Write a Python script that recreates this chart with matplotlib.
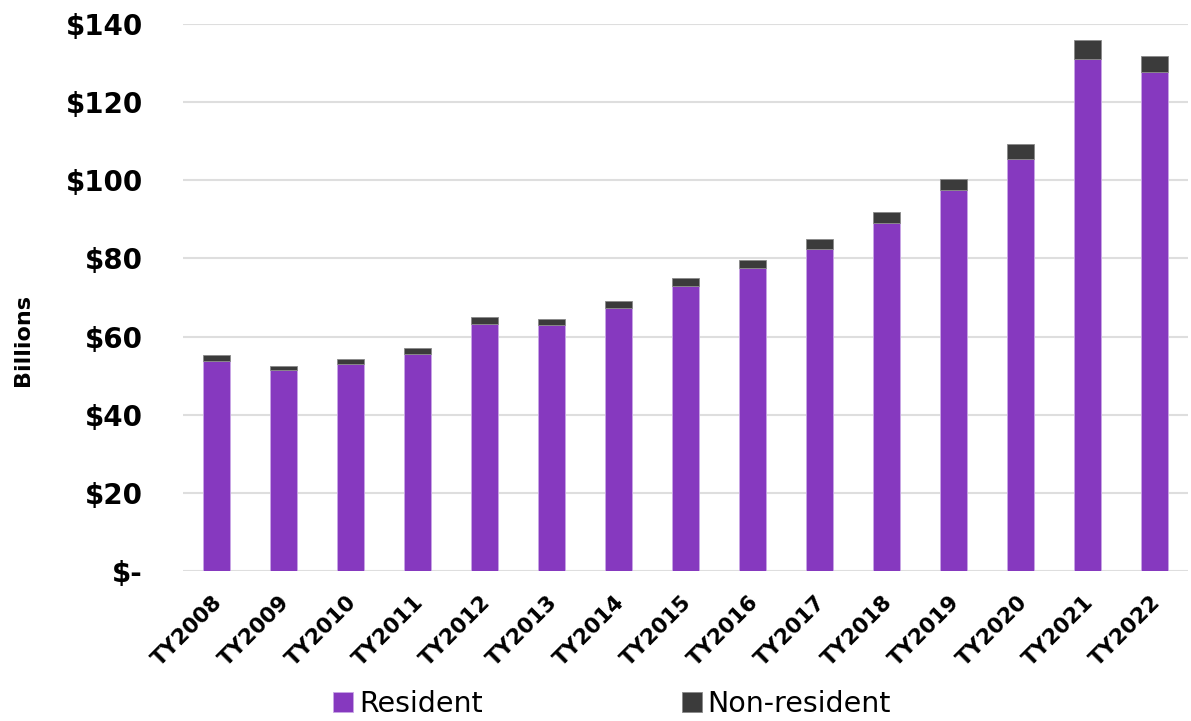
import numpy as np
import matplotlib
matplotlib.use("Agg")
import matplotlib.pyplot as plt
import matplotlib.transforms as mtransforms

years = ["TY2008", "TY2009", "TY2010", "TY2011", "TY2012", "TY2013", "TY2014", "TY2015",
         "TY2016", "TY2017", "TY2018", "TY2019", "TY2020", "TY2021", "TY2022"]
resident = [53.7, 51.5, 53.0, 55.6, 63.2, 62.9, 67.3, 72.9, 77.5, 82.4, 89.1, 97.4, 105.4, 131.1, 127.6]
non_resident = [1.5, 1.1, 1.2, 1.4, 1.7, 1.7, 1.8, 2.1, 2.0, 2.6, 2.8, 3.0, 3.8, 4.7, 4.1]
yticks = [0, 20, 40, 60, 80, 100, 120, 140]
ytick_labels = ["$-", "$20", "$40", "$60", "$80", "$100", "$120", "$140"]

purple = "#8639BF"
dark = "#3B3B3B"

plt.rcParams["font.family"] = "DejaVu Sans"

fig = plt.figure(figsize=(11.91, 7.21), dpi=100)
ax = fig.add_axes([0.1537, 0.208, 0.844, 0.7587])

x = np.arange(len(years))
ax.bar(x, resident, width=0.4, color=purple, edgecolor="#C9A6E6", linewidth=0.6,
       label="Resident", zorder=3)
ax.bar(x, non_resident, width=0.4, bottom=resident, color=dark, edgecolor="#8A8A8A",
       linewidth=0.6, label="Non-resident", zorder=3)

ax.set_xlim(-0.5, len(years) - 0.5)
ax.set_ylim(0, 140)
ax.set_yticks(yticks)
ax.set_yticklabels(ytick_labels, fontsize=20, fontweight="bold")
ax.grid(axis="y", color="#DEDEDE", linewidth=1.5, zorder=0)
for s in ax.spines.values():
    s.set_visible(False)
ax.tick_params(axis="y", length=0, pad=29)
ax.tick_params(axis="x", length=0, pad=2)

ax.set_xticks(x)
ax.set_xticklabels(years, fontsize=15.5, fontweight="bold", rotation=45,
                   ha="right", va="top", rotation_mode="anchor")
offset = mtransforms.ScaledTranslation(-4 / 100, -18 / 100, fig.dpi_scale_trans)
for lbl in ax.get_xticklabels():
    lbl.set_transform(lbl.get_transform() + offset)

fig.text(23 / 1191, 1 - 340 / 721, "Billions", rotation=90, fontsize=16,
         fontweight="bold", ha="center", va="center")

fig.legend(loc="center", bbox_to_anchor=(0.514, 0.024), ncol=2, frameon=False,
           fontsize=20.5, handlelength=0.7, handleheight=0.7, handletextpad=0.2,
           columnspacing=7.0)

fig.savefig("out.png", dpi=100)
